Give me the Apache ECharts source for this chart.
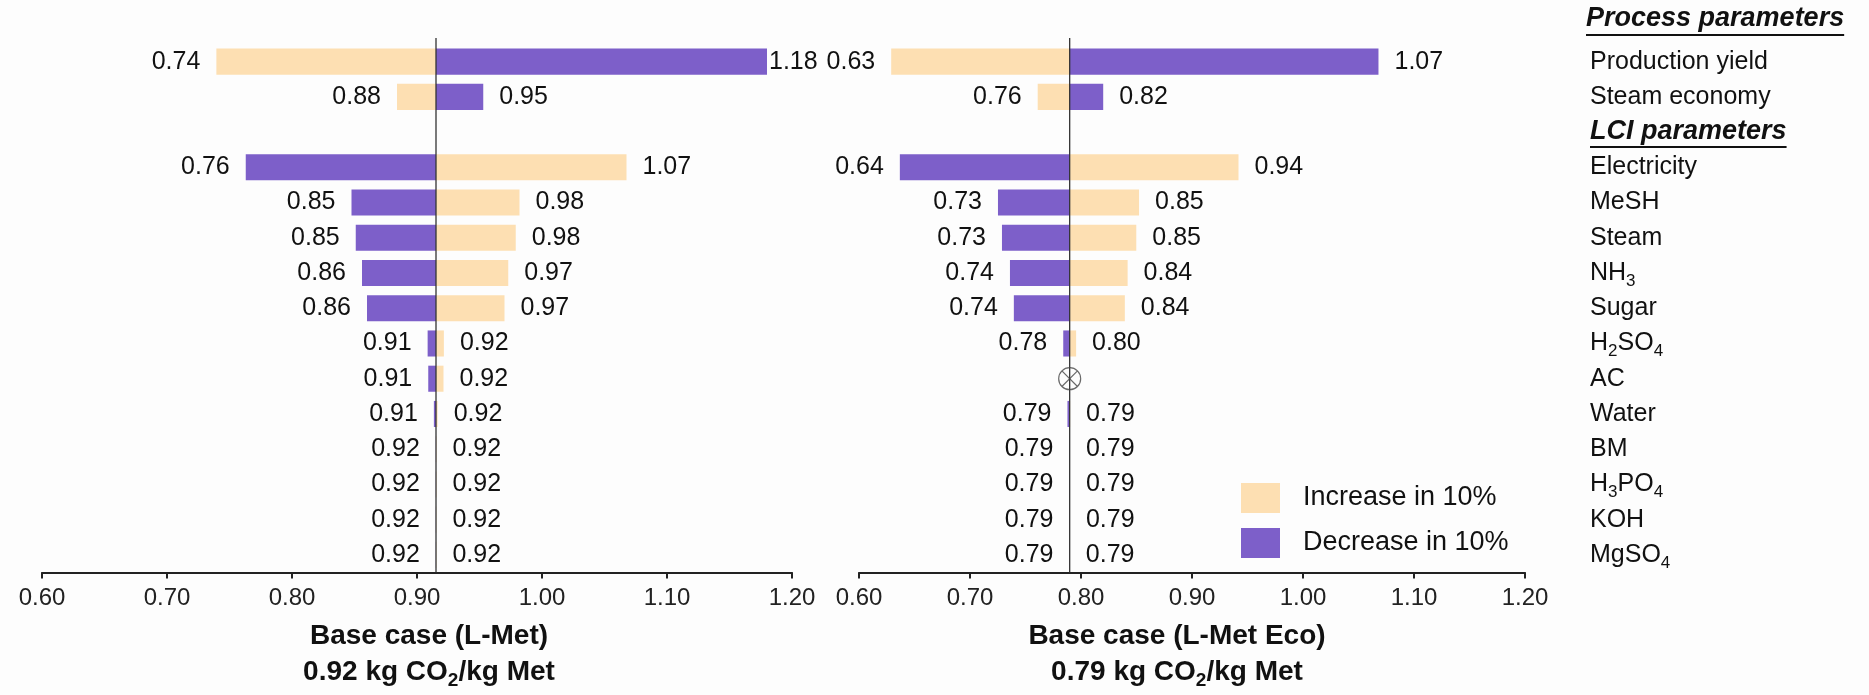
<!DOCTYPE html>
<html><head><meta charset="utf-8">
<script src="https://cdn.jsdelivr.net/npm/echarts@6/dist/echarts.min.js"></script>
<style>html,body{margin:0;padding:0;background:#fdfdfd}#c{width:1869px;height:695px}</style>
</head><body><div id="c"></div>
<script>
// ---------- data ----------
const categories = ['Production yield','Steam economy','LCI parameters','Electricity','MeSH','Steam','NH3','Sugar','H2SO4','AC','Water','BM','H3PO4','KOH','MgSO4'];
const headerCategory = 'LCI parameters';
const topHeader = 'Process parameters';

const baseLMet = 0.9152;
const increaseLMet = [0.7395, 0.884, null, 1.0676, 0.982, 0.979, 0.973, 0.970, 0.9215, 0.9212, 0.9165, 0.9156, 0.9156, 0.9155, 0.9155];
const decreaseLMet = [1.18, 0.953, null, 0.763, 0.8476, 0.851, 0.856, 0.860, 0.9085, 0.909, 0.9135, 0.9151, 0.9151, 0.9151, 0.9151];

const baseEco = 0.7898;
const increaseEco = [0.629, 0.761, null, 0.9419, 0.8523, 0.8498, 0.842, 0.8395, 0.7956, null, 0.7902, 0.7900, 0.7900, 0.7900, 0.7899];
const decreaseEco = [1.068, 0.820, null, 0.6368, 0.7252, 0.7288, 0.736, 0.7395, 0.7840, null, 0.7878, 0.7895, 0.7895, 0.7896, 0.7896];
const notAvailableEco = ['AC'];

const axisMin = 0.6, axisMax = 1.2, axisStep = 0.1;
const titleLMet = ['Base case (L-Met)', '0.92 kg CO', '2', '/kg Met'];
const titleEco = ['Base case (L-Met Eco)', '0.79 kg CO', '2', '/kg Met'];
const legendNames = ['Increase in 10%', 'Decrease in 10%'];

// ---------- style ----------
const FONT = '"Liberation Sans", Arial, Helvetica, sans-serif';
const PEACH = '#FDDFB2';
const PURPLE = '#7D5FC9';
const INK = '#111';

const ctx = document.createElement('canvas').getContext('2d');
ctx.font = 'italic bold 27px "Liberation Sans"';
const wLCI = ctx.measureText(headerCategory).width;
const wProc = ctx.measureText(topHeader).width;

function catLabel(name) {
  if (name === headerCategory) return '{h|' + name + '}\n{u| }';
  return '{t|' + name.replace(/(\d)/g, '}{s|$1}{t|') + '}';
}

function makeRender(base, color) {
  return function (params, api) {
    const v = api.value(0), idx = api.value(1);
    const p0 = api.coord([base, idx]);
    const p1 = api.coord([v, idx]);
    const h = api.size([0, 1])[1] * 0.74;
    const cs = params.coordSys;
    const right = v >= base;
    let gap = 16;
    if (right && p1[0] + gap + 52 > cs.x + cs.width) gap = 2;
    return {
      type: 'group',
      children: [
        { type: 'rect', shape: { x: Math.min(p0[0], p1[0]), y: p0[1] - h / 2, width: Math.abs(p1[0] - p0[0]), height: h }, style: { fill: color } },
        { type: 'text', x: right ? p1[0] + gap : p1[0] - gap, y: p0[1],
          style: { text: v.toFixed(2), align: right ? 'left' : 'right', verticalAlign: 'middle', fontSize: 25, fontFamily: FONT, fill: INK } }
      ]
    };
  };
}
const toData = arr => arr.map((v, i) => [v, i]).filter(d => d[0] != null);

function xAxisDef(idx, title, pad) {
  return {
    gridIndex: idx, type: 'value', min: axisMin, max: axisMax, interval: axisStep,
    axisLine: { show: true, onZero: false, lineStyle: { color: '#222', width: 2 } },
    axisTick: { show: true, length: 6, lineStyle: { color: '#222', width: 2 } },
    splitLine: { show: false },
    axisLabel: { formatter: v => v.toFixed(2), fontSize: 24, fontFamily: FONT, color: '#222', margin: 14 },
    name: '{b|' + title[0] + '}\n{b|' + title[1] + '}{bs|' + title[2] + '}{b|' + title[3] + '}',
    nameLocation: 'middle', nameGap: 46,
    nameTextStyle: {
      padding: pad,
      rich: {
        b: { fontSize: 28, fontWeight: 'bold', fontFamily: FONT, color: INK, lineHeight: 36 },
        bs: { fontSize: 19, fontWeight: 'bold', fontFamily: FONT, color: INK, padding: [16, 0, 0, 0] }
      }
    }
  };
}

const centerLine = (idx, base) => ({
  type: 'custom', xAxisIndex: idx, yAxisIndex: idx, silent: true, z: 5, clip: false,
  encode: { x: 0, y: 1 },
  data: [[base, 0]],
  renderItem: function (params, api) {
    const cs = params.coordSys;
    const x = api.coord([api.value(0), 0])[0];
    return { type: 'line', shape: { x1: x, y1: cs.y - 6, x2: x, y2: cs.y + cs.height },
      style: { stroke: '#333', lineWidth: 1.3 } };
  }
});

const chart = echarts.init(document.getElementById('c'), null, { renderer: 'canvas' });
chart.setOption({
  animation: false,
  backgroundColor: '#fdfdfd',
  title: {
    text: '{h|' + topHeader + '}\n{u| }', left: 1586, top: 4, padding: 0,
    textStyle: { rich: {
      h: { fontSize: 27, fontWeight: 'bold', fontStyle: 'italic', fontFamily: FONT, color: INK, lineHeight: 30 },
      u: { width: wProc, height: 2, lineHeight: 2, fontSize: 1, backgroundColor: INK }
    } }
  },
  legend: {
    orient: 'vertical', left: 1236, top: 478, itemWidth: 39, itemHeight: 30, itemGap: 15,
    icon: 'rect', selectedMode: false, data: legendNames,
    textStyle: { fontSize: 27, fontFamily: FONT, color: INK, padding: [0, 0, 0, 18] }
  },
  grid: [
    { left: 42, width: 750, top: 44, bottom: 119, containLabel: false },
    { left: 859, width: 666, top: 44, bottom: 119, containLabel: false }
  ],
  xAxis: [ xAxisDef(0, titleLMet, [0, 0, 0, 24]), xAxisDef(1, titleEco, [0, 30, 0, 0]) ],
  yAxis: [
    { gridIndex: 0, type: 'category', data: categories, inverse: true, show: false },
    { gridIndex: 1, type: 'category', data: categories, inverse: true, position: 'right',
      axisLine: { show: false }, axisTick: { show: false }, splitLine: { show: false },
      axisLabel: { margin: 65, align: 'left', formatter: catLabel,
        rich: {
          t: { fontSize: 25, fontFamily: FONT, color: INK, lineHeight: 30 },
          s: { fontSize: 17, fontFamily: FONT, color: INK, padding: [16, 0, 0, 0] },
          h: { fontSize: 27, fontWeight: 'bold', fontStyle: 'italic', fontFamily: FONT, color: INK, lineHeight: 30 },
          u: { width: wLCI, height: 2, lineHeight: 2, fontSize: 1, backgroundColor: INK }
        } } }
  ],
  series: [
    { type: 'custom', name: legendNames[0], xAxisIndex: 0, yAxisIndex: 0, renderItem: makeRender(baseLMet, PEACH), itemStyle: { color: PEACH }, encode: { x: 0, y: 1 }, data: toData(increaseLMet) },
    { type: 'custom', name: legendNames[1], xAxisIndex: 0, yAxisIndex: 0, renderItem: makeRender(baseLMet, PURPLE), itemStyle: { color: PURPLE }, encode: { x: 0, y: 1 }, data: toData(decreaseLMet) },
    { type: 'custom', name: legendNames[0], xAxisIndex: 1, yAxisIndex: 1, renderItem: makeRender(baseEco, PEACH), itemStyle: { color: PEACH }, encode: { x: 0, y: 1 }, data: toData(increaseEco) },
    { type: 'custom', name: legendNames[1], xAxisIndex: 1, yAxisIndex: 1, renderItem: makeRender(baseEco, PURPLE), itemStyle: { color: PURPLE }, encode: { x: 0, y: 1 }, data: toData(decreaseEco) },
    centerLine(0, baseLMet),
    centerLine(1, baseEco),
    { type: 'scatter', xAxisIndex: 1, yAxisIndex: 1, silent: true, z: 6,
      data: notAvailableEco.map(c => [baseEco, c]),
      symbol: 'path://M12,1A11,11,0,1,1,11.99,1ZM4.2,4.2L19.8,19.8M19.8,4.2L4.2,19.8',
      symbolSize: 22,
      itemStyle: { color: 'rgba(0,0,0,0)', borderColor: '#444', borderWidth: 1.2 } }
  ]
});
</script></body></html>
